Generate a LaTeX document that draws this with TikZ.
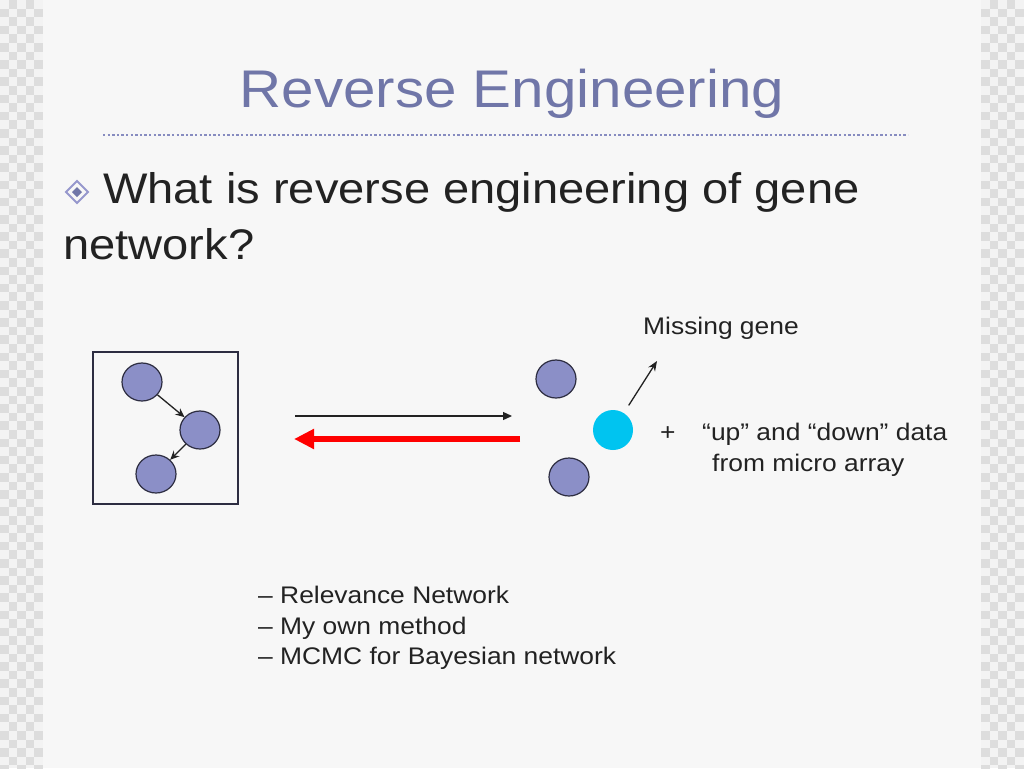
\documentclass[tikz,border=0pt]{standalone}
\usepackage{fontspec}
\setmainfont[FakeStretch=1.1]{Liberation Sans}
\usetikzlibrary{calc}
\usetikzlibrary{arrows.meta,shapes.geometric}
\definecolor{titleblue}{RGB}{112,118,168}
\definecolor{dotblue}{RGB}{135,140,192}
\definecolor{bulletblue}{RGB}{150,152,205}
\definecolor{genefill}{RGB}{139,143,199}
\definecolor{geneline}{RGB}{45,45,65}
\definecolor{missingcyan}{RGB}{0,196,240}
\definecolor{slidebg}{RGB}{247,247,247}
\definecolor{checklight}{RGB}{243,243,243}
\definecolor{checkdark}{RGB}{221,221,221}
\definecolor{textgray}{RGB}{34,34,34}
\tikzset{
  gene/.style={ellipse,draw=geneline,line width=1.2pt,fill=genefill,minimum width=40pt,minimum height=38pt,inner sep=0pt},
  missing/.style={circle,fill=missingcyan,minimum size=40pt,inner sep=0pt},
  txt/.style={anchor=base west,inner sep=0pt,text=textgray},
  small/.style={txt,font=\fontsize{24}{28}\selectfont},
}

\begin{document}
\begin{tikzpicture}[x=1pt,y=-1pt]
    \useasboundingbox (0,0) rectangle (1024,768);
    % slide background and checker strips
    \fill[slidebg] (0,0) rectangle (1024,768);
    \fill[checklight] (0,0) rectangle (43,768);
    \fill[checklight] (981,0) rectangle (1024,768);
    \foreach \i in {0,...,4}{
      \foreach \j in {0,...,89}{
        \pgfmathtruncatemacro{\odd}{mod(\i+\j,2)}
        \ifnum\odd=1
          \fill[checkdark] (\i*8.6,\j*8.6) rectangle ++(8.6,8.6);
          \fill[checkdark] (981+\i*8.6,\j*8.6) rectangle ++(8.6,8.6);
        \fi
      }
    }
    % title
    \node[anchor=base,inner sep=0pt,text=titleblue,font=\fontsize{53}{60}\selectfont] (title) at (512,107) {Reverse Engineering};
    \coordinate (RuleL) at (103,135);
    \coordinate (RuleR) at (908,135);
    \draw[dotblue,line width=2.6pt,dash pattern=on 2.4pt off 2.2pt] (RuleL)--(RuleR);
    % bullet
    \coordinate (Bul) at (77,192);
    \draw[bulletblue,line width=1.8pt] ($(Bul)+(-11,0)$)--($(Bul)+(0,-11)$)--($(Bul)+(11,0)$)--($(Bul)+(0,11)$)--cycle;
    \fill[titleblue] ($(Bul)+(-5,0)$)--($(Bul)+(0,-5)$)--($(Bul)+(5,0)$)--($(Bul)+(0,5)$)--cycle;
    \node[txt,font=\fontsize{42.8}{50}\selectfont] (q1) at (103,203) {What is reverse engineering of gene};
    \node[txt,font=\fontsize{42.8}{50}\selectfont] (q2) at (63,259) {network?};
    % known network
    \draw[geneline,line width=1.2pt] (93,352) rectangle (238,504);
    \node[gene] (A) at (142,382) {};
    \node[gene] (B) at (200,430) {};
    \node[gene] (C) at (156,474) {};
    \draw[-{Stealth[length=9pt,width=8pt]},line width=1.3pt,textgray] (A)--(B);
    \draw[-{Stealth[length=9pt,width=8pt]},line width=1.3pt,textgray] (B)--(C);
    % arrows between
    \coordinate (FwdS) at (295,416);
    \coordinate (FwdE) at (512,416);
    \coordinate (BackS) at (520,439);
    \coordinate (BackE) at (294,439);
    \draw[-{Triangle[length=9pt,width=8pt]},line width=1.3pt,textgray] (FwdS)--(FwdE);
    \draw[-{Triangle[length=20pt,width=19pt]},line width=6pt,red] (BackS)--(BackE);
    % data side
    \node[gene] (D) at (556,379) {};
    \node[gene] (E) at (569,477) {};
    \node[missing] (F) at (613,430) {};
    \coordinate (MG) at (657,361);
    \draw[-{Stealth[length=10pt,width=8pt]},line width=1.3pt,textgray,shorten <=9pt] (F)--(MG);
    \node[small] (miss) at (643,334) {Missing gene};
    \node[small] (plus) at (660,440) {+};
    \node[small] (updown) at (702,440) {“up” and “down” data};
    \node[small] (micro) at (712,471) {from micro array};
    % methods
    \node[small] (m1) at (258,603) {– Relevance Network};
    \node[small] (m2) at (258,634) {– My own method};
    \node[small] (m3) at (258,664) {– MCMC for Bayesian network};
  \end{tikzpicture}
\end{document}
